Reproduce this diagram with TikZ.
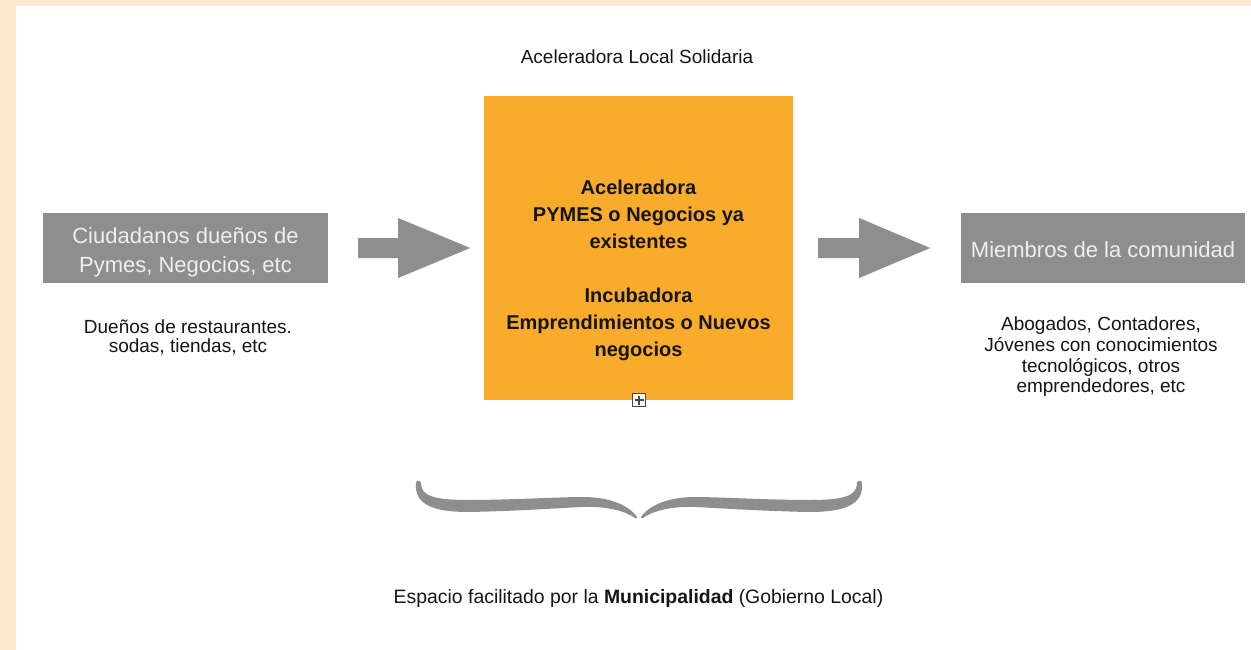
\documentclass[tikz,border=0pt]{standalone}
\usepackage{fontspec}
\setmainfont{Liberation Sans}
\definecolor{beige}{HTML}{F9EAD1}
\definecolor{boxgray}{HTML}{8E8E8E}
\definecolor{boxtext}{HTML}{EFEFEF}
\definecolor{orangebox}{HTML}{F9AB2C}
\definecolor{ink}{HTML}{151515}
\definecolor{icongray}{HTML}{4A4A4A}
\begin{document}
\begin{tikzpicture}[x=1pt,y=-1pt,
  graybox/.style={fill=boxgray, draw=none, minimum width=285pt, minimum height=70pt, inner sep=0pt},
  boxlabel/.style={text=boxtext, align=center, font=\fontsize{22}{29}\selectfont},
  orangesq/.style={fill=orangebox, draw=none, minimum width=309pt, minimum height=304pt, inner sep=0pt},
  centertext/.style={text=ink, align=center, font=\fontsize{20}{27}\selectfont\bfseries},
  smalltext/.style={text=ink, align=center, font=\fontsize{19}{20.7}\selectfont},
  blockarrow/.style={fill=boxgray, draw=none},
  bracefill/.style={fill=boxgray, draw=none}
]
\useasboundingbox (0,0) rectangle (1251,650);
\fill[beige] (0,0) rectangle (1251,650);
\fill[white] (16,6) rectangle (1251,650);

% title
\node[smalltext] (title) at (637,57) {Aceleradora Local Solidaria};

% boxes
\node[graybox] (left) at (185.5,248) {};
\node[boxlabel] (lefttext) at (185.5,252) {Ciudadanos dueños de\\Pymes, Negocios, etc};
\node[orangesq] (mid) at (638.5,248) {};
\node[centertext] (midtext) at (638.5,270) {Aceleradora\\PYMES o Negocios ya\\existentes\\[27pt]Incubadora\\Emprendimientos o Nuevos\\negocios};
\node[graybox, minimum width=284pt] (right) at (1103,248) {};
\node[boxlabel] (righttext) at (1103,250) {Miembros de la comunidad};

% captions
\node[smalltext, font=\fontsize{19}{19.5}\selectfont] (leftcap) at (188,337.5) {Dueños de restaurantes.\\sodas, tiendas, etc};
\node[smalltext] (rightcap) at (1101,357) {Abogados, Contadores,\\Jóvenes con conocimientos\\tecnológicos, otros\\emprendedores, etc};

% block arrows
\coordinate (a1) at ([xshift=30pt]left.east);
\coordinate (a2) at ([xshift=25pt]mid.east);
\fill[blockarrow] (a1) ++(0,-10) -- ++(40,0) -- ++(0,-20) -- ++(72,30) -- ++(-72,30) -- ++(0,-20) -- ++(-40,0) -- cycle;
\fill[blockarrow] (a2) ++(0,-10) -- ++(41,0) -- ++(0,-20) -- ++(71,30) -- ++(-71,30) -- ++(0,-20) -- ++(-41,0) -- cycle;

% small expand icon
\node[draw=icongray, fill=white!94!gray, line width=1.8pt, minimum size=13pt, inner sep=0pt] (icon) at (639,400) {};
\draw[icongray, line width=1.4pt] ([yshift=-4.5pt]icon.center) -- ([yshift=4.5pt]icon.center)
  ([xshift=-4.5pt]icon.center) -- ([xshift=4.5pt]icon.center);

% brace
\coordinate (bmid) at (639,518);
\foreach \s in {1,-1}{
\begin{scope}[shift={(bmid)}, xscale=\s]
\fill[bracefill] (-223,-35)
  .. controls (-225,-13) and (-205,-6) .. (-170,-6)
  .. controls (-120,-7) and (-80,-10) .. (-56,-11)
  .. controls (-30,-12) and (-12,-6) .. (-4,0)
  .. controls (-3,1) and (-1,0) .. (-2,-1)
  .. controls (-10,-13) and (-30,-21) .. (-56,-21)
  .. controls (-80,-21) and (-130,-18) .. (-170,-18)
  .. controls (-205,-18) and (-218,-22) .. (-218,-35)
  .. controls (-218,-38) and (-223,-38) .. (-223,-35) -- cycle;
\end{scope}
}

% bottom caption
\node[smalltext, font=\fontsize{19.4}{21}\selectfont] (bottom) at (638.5,598) {Espacio facilitado por la \textbf{Municipalidad} (Gobierno Local)};
\end{tikzpicture}
\end{document}
